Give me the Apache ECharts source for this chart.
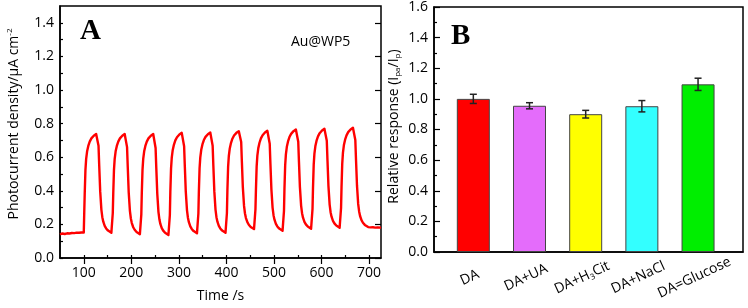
<!DOCTYPE html>
<html>
<head>
<meta charset="utf-8">
<title>Photocurrent and selectivity</title>
<script src="https://cdn.jsdelivr.net/npm/echarts@6/dist/echarts.min.js"></script>
<style>
html, body { margin: 0; padding: 0; background: #fff; }
#chart { width: 748px; height: 308px; }
</style>
</head>
<body>
<div id="chart"></div>
<script>
// panel A: photocurrent vs time, [t (s), j (uA cm-2)]
var photocurrent = [
    [50,0.140],[55,0.146],[60,0.143],[65,0.147],[70,0.146],[75,0.149],[80,0.148],[85,0.151],[90,0.150],[95,0.152],
    [100,0.152],[101,0.272],[102,0.385],[103.5,0.525],[105,0.590],[107,0.635],[109.5,0.667],[112.5,0.693],[116,0.712],[121,0.728],[126,0.738],[130,0.745],
    [131,0.668],[132.5,0.548],[134.5,0.398],[137,0.288],[139,0.243],[141,0.216],[144,0.191],[147,0.176],[151,0.163],[155,0.155],[158,0.150],
    [160,0.148],[161,0.268],[162,0.385],[163.5,0.525],[165,0.590],[167,0.635],[169.5,0.667],[172.5,0.693],[176,0.712],[181,0.728],[186,0.738],[190,0.745],
    [191,0.660],[192.5,0.540],[194.5,0.390],[197,0.280],[199,0.235],[201,0.208],[204,0.183],[207,0.168],[211,0.155],[215,0.147],[218,0.142],
    [220,0.140],[221,0.260],[222,0.385],[223.5,0.525],[225,0.590],[227,0.635],[229.5,0.667],[232.5,0.693],[236,0.712],[241,0.728],[246,0.738],[250,0.745],
    [251,0.655],[252.5,0.535],[254.5,0.385],[257,0.275],[259,0.230],[261,0.203],[264,0.178],[267,0.163],[271,0.150],[275,0.142],[278,0.137],
    [280,0.135],[281,0.255],[282,0.392],[283.5,0.532],[285,0.597],[287,0.642],[289.5,0.674],[292.5,0.700],[296,0.719],[301,0.735],[306,0.745],[310,0.752],
    [311,0.665],[312.5,0.545],[314.5,0.395],[317,0.285],[319,0.240],[321,0.213],[324,0.188],[327,0.173],[331,0.160],[335,0.152],[338,0.147],
    [340,0.145],[341,0.265],[342,0.394],[343.5,0.534],[345,0.599],[347,0.644],[349.5,0.676],[352.5,0.702],[356,0.721],[361,0.737],[366,0.747],[370,0.754],
    [371,0.668],[372.5,0.548],[374.5,0.398],[377,0.288],[379,0.243],[381,0.216],[384,0.191],[387,0.176],[391,0.163],[395,0.155],[398,0.150],
    [400,0.148],[401,0.268],[402,0.402],[403.5,0.542],[405,0.607],[407,0.652],[409.5,0.684],[412.5,0.710],[416,0.729],[421,0.745],[426,0.755],[430,0.762],
    [431,0.690],[432.5,0.570],[434.5,0.420],[437,0.310],[439,0.265],[441,0.238],[444,0.213],[447,0.198],[451,0.185],[455,0.177],[458,0.172],
    [460,0.170],[461,0.290],[462,0.404],[463.5,0.544],[465,0.609],[467,0.654],[469.5,0.686],[472.5,0.712],[476,0.731],[481,0.747],[486,0.757],[490,0.764],
    [491,0.680],[492.5,0.560],[494.5,0.410],[497,0.300],[499,0.255],[501,0.228],[504,0.203],[507,0.188],[511,0.175],[515,0.167],[518,0.162],
    [520,0.160],[521,0.280],[522,0.412],[523.5,0.552],[525,0.617],[527,0.662],[529.5,0.694],[532.5,0.720],[536,0.739],[541,0.755],[546,0.765],[550,0.772],
    [551,0.692],[552.5,0.572],[554.5,0.422],[557,0.312],[559,0.267],[561,0.240],[564,0.215],[567,0.200],[571,0.187],[575,0.179],[578,0.174],
    [580,0.172],[581,0.292],[582,0.416],[583.5,0.556],[585,0.621],[587,0.666],[589.5,0.698],[592.5,0.724],[596,0.743],[601,0.759],[606,0.769],[610,0.776],
    [611,0.698],[612.5,0.578],[614.5,0.428],[617,0.318],[619,0.273],[621,0.246],[624,0.221],[627,0.206],[631,0.193],[635,0.185],[638,0.180],
    [640,0.178],[641,0.298],[642,0.422],[643.5,0.562],[645,0.627],[647,0.672],[649.5,0.704],[652.5,0.730],[656,0.749],[661,0.765],[666,0.775],[670,0.782],
    [671,0.702],[672.5,0.582],[674.5,0.432],[677,0.322],[679,0.277],[681,0.250],[684,0.225],[687,0.210],[691,0.197],[695,0.189],[698,0.184],
    [703,0.182],[708,0.183],[713,0.181],[718,0.182],[725,0.181]
];
var timeTicks = [100, 200, 300, 400, 500, 600, 700];
var currentTicks = [0, 0.2, 0.4, 0.6, 0.8, 1.0, 1.2, 1.4];

// panel B: relative response with error bars
var categories = ['DA', 'DA+UA', 'DA+H3Cit', 'DA+NaCl', 'DA=Glucose'];
var responses = [1.0, 0.955, 0.90, 0.952, 1.095];
var errors = [0.03, 0.02, 0.025, 0.037, 0.04];
var categoryPos = [1, 2, 3, 4, 5];

var barColors = ['#ff0000', '#e46cfb', '#ffff00', '#33ffff', '#00ee00'];
var font = 'Open Sans';

var chart = echarts.init(document.getElementById('chart'));

var frameLine = { show: true, lineStyle: { color: '#000', width: 1.5 } };
var txt = { color: '#000', fontFamily: font, fontSize: 14 };
var subStyle = { color: '#000', fontFamily: font, fontSize: 8, verticalAlign: 'bottom', padding: [8, 0, 0, 0] };
var supStyle = { color: '#000', fontFamily: font, fontSize: 8, verticalAlign: 'top', padding: [0, 0, 8, 0] };

var option = {
    animation: false,
    backgroundColor: '#fff',
    title: [
        { text: 'A', left: 75, top: 12, textStyle: { fontFamily: 'Liberation Serif', fontWeight: 'bold', fontSize: 29, color: '#000' } },
        { text: 'Au@WP5', left: 286, top: 30, textStyle: { fontFamily: font, fontWeight: 'normal', fontSize: 14, color: '#000' } },
        { text: 'B', left: 446, top: 17, textStyle: { fontFamily: 'Liberation Serif', fontWeight: 'bold', fontSize: 29, color: '#000' } }
    ],
    grid: [
        { left: 60, top: 6, right: 367, bottom: 46, show: true, borderColor: '#000', borderWidth: 1.5 },
        { left: 434, top: 6, right: 5, bottom: 56, show: true, borderColor: '#000', borderWidth: 1.5 }
    ],
    xAxis: [
        {
            gridIndex: 0, type: 'value', min: 50, max: 725, interval: 50,
            axisLine: frameLine, splitLine: { show: false },
            axisTick: { inside: true, length: 3, lineStyle: { color: '#000', width: 1.2 } },
            axisLabel: Object.assign({ margin: 8, showMinLabel: false, showMaxLabel: false,
                formatter: function (v) { return v % 100 === 0 ? String(v) : ''; } }, txt),
            name: 'Time /s', nameLocation: 'middle', nameGap: 31, nameTextStyle: txt
        },
        {
            gridIndex: 0, type: 'value', min: 50, max: 725,
            axisLine: { show: false }, splitLine: { show: false }, axisLabel: { show: false },
            axisTick: { inside: true, length: 6, customValues: timeTicks, lineStyle: { color: '#000', width: 1.2 } }
        },
        {
            gridIndex: 1, type: 'value', min: 0.3, max: 5.8,
            axisLine: frameLine, splitLine: { show: false },
            axisTick: { inside: true, length: 5, customValues: categoryPos, lineStyle: { color: '#000', width: 1.2 } },
            axisLabel: {
                customValues: categoryPos, rotate: 25, margin: 24, align: 'center', verticalAlign: 'middle',
                padding: [0, 8, 0, 0],
                rich: { n: txt, sub: subStyle },
                formatter: function (v) {
                    var name = categories[Math.round(v) - 1] || '';
                    var parts = name.split('H3');
                    return parts.length > 1
                        ? '{n|' + parts[0] + 'H}{sub|3}{n|' + parts[1] + '}'
                        : '{n|' + name + '}';
                }
            }
        }
    ],
    yAxis: [
        {
            gridIndex: 0, type: 'value', min: 0, max: 1.5, interval: 0.1,
            axisLine: frameLine, splitLine: { show: false },
            axisTick: { inside: true, length: 3, lineStyle: { color: '#000', width: 1.2 } },
            axisLabel: Object.assign({ margin: 6, showMaxLabel: false,
                formatter: function (v) { return Math.round(v * 10) % 2 === 0 ? v.toFixed(1) : ''; } }, txt),
            name: '{n|Photocurrent density/\u03bcA cm}{sup|-2}', nameLocation: 'middle', nameGap: 38,
            nameTextStyle: { rich: { n: txt, sup: supStyle }, padding: [0, 0, 0, 16] }
        },
        {
            gridIndex: 0, type: 'value', min: 0, max: 1.5,
            axisLine: { show: false }, splitLine: { show: false }, axisLabel: { show: false },
            axisTick: { inside: true, length: 6, customValues: currentTicks, lineStyle: { color: '#000', width: 1.2 } }
        },
        {
            gridIndex: 1, type: 'value', min: 0, max: 1.6, interval: 0.2,
            axisLine: frameLine, splitLine: { show: false },
            axisTick: { inside: true, length: 6, lineStyle: { color: '#000', width: 1.2 } },
            minorTick: { show: true, splitNumber: 2, length: 3, lineStyle: { color: '#000', width: 1.2 } },
            axisLabel: Object.assign({ margin: 6, formatter: function (v) { return v.toFixed(1); } }, txt),
            name: '{n|Relative response (I}{sub|pa}{n|/I}{sub|p}{n|)}', nameLocation: 'middle', nameGap: 32,
            nameTextStyle: { rich: { n: txt, sub: subStyle }, padding: [0, 0, 0, 6] }
        }
    ],
    series: [
        {
            type: 'line', xAxisIndex: 0, yAxisIndex: 0,
            data: photocurrent, showSymbol: false,
            lineStyle: { color: '#ff0000', width: 2.4, join: 'round' }
        },
        {
            type: 'bar', xAxisIndex: 2, yAxisIndex: 2, barWidth: 33,
            data: categories.map(function (c, i) {
                return { value: [categoryPos[i], responses[i]], itemStyle: { color: barColors[i] } };
            }),
            itemStyle: { borderColor: '#444', borderWidth: 1 }
        },
        {
            type: 'custom', xAxisIndex: 2, yAxisIndex: 2, z: 5,
            data: categories.map(function (c, i) { return [categoryPos[i], responses[i], errors[i]]; }),
            renderItem: function (params, api) {
                var x = api.value(0), v = api.value(1), e = api.value(2);
                var hi = api.coord([x, v + e]), lo = api.coord([x, v - e]);
                var w = 3.5;
                var st = { stroke: '#222', lineWidth: 1.5 };
                return {
                    type: 'group',
                    children: [
                        { type: 'line', shape: { x1: hi[0], y1: hi[1], x2: lo[0], y2: lo[1] }, style: st },
                        { type: 'line', shape: { x1: hi[0] - w, y1: hi[1], x2: hi[0] + w, y2: hi[1] }, style: st },
                        { type: 'line', shape: { x1: lo[0] - w, y1: lo[1], x2: lo[0] + w, y2: lo[1] }, style: st }
                    ]
                };
            }
        }
    ]
};
chart.setOption(option);
</script>
</body>
</html>
